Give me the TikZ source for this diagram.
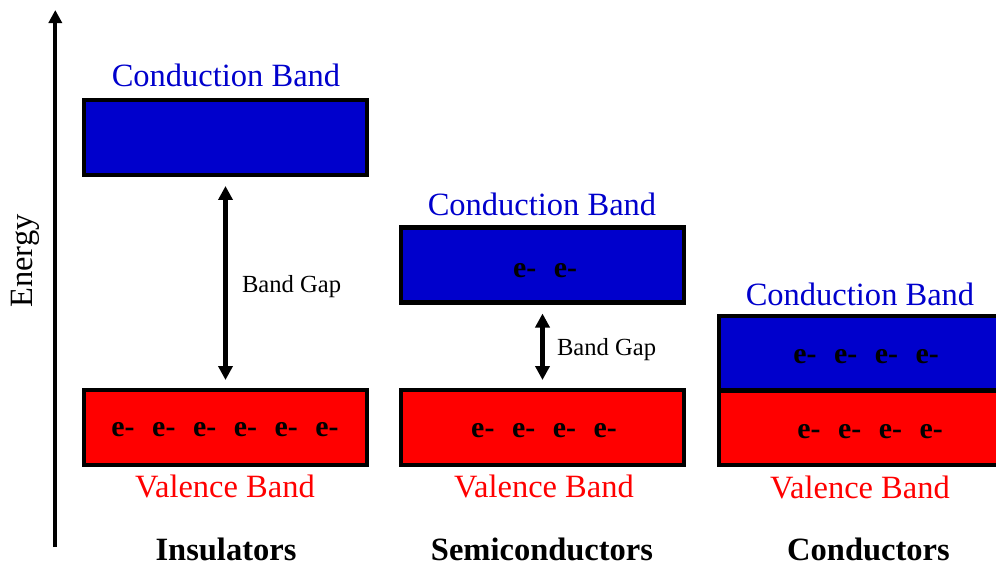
\documentclass[tikz,border=0pt]{standalone}
\usepackage{fontspec}
\setmainfont{Liberation Serif}
\usetikzlibrary{arrows.meta,positioning}

\definecolor{cbblue}{HTML}{0000CC}
\definecolor{vbred}{HTML}{FF0000}
\newcommand{\elsp}{\hspace{10pt}}

\begin{document}
\begin{tikzpicture}[x=0.02cm, y=-0.02cm,
    every node/.style={inner sep=0pt, outer sep=0pt},
    cband/.style={rectangle, draw, line width=2.4pt, fill=cbblue,
                  minimum width=5.66cm, minimum height=1.5cm},
    vband/.style={cband, fill=vbred},
    lbl/.style={font=\fontsize{18.5}{22}\selectfont, anchor=base},
    ctxt/.style={lbl, text=cbblue},
    vtxt/.style={lbl, text=vbred},
    cat/.style={lbl, font=\fontsize{18.5}{22}\selectfont\bfseries},
    elec/.style={font=\fontsize{17}{20}\selectfont\bfseries, anchor=base},
    gtxt/.style={font=\fontsize{14}{17}\selectfont, anchor=base west},
    gap/.style={{Triangle[length=0.28cm, width=0.28cm]}-{Triangle[length=0.28cm, width=0.28cm]},
                line width=2.3pt, shorten <=0.22cm, shorten >=0.2cm},
  ]
  \useasboundingbox (0,0) rectangle (996,566);
  % energy axis
  \coordinate (ebot) at (55.3, 547);
  \coordinate (etop) at (55.3, 10);
  \draw[line width=2.3pt, -{Triangle[length=0.26cm, width=0.26cm]}] (ebot) -- (etop);
  \node[lbl, rotate=90] (energy) at (32, 261) {Energy};
  % insulators
  \node[cband] (ic) at (225.5, 137.5) {};
  \node[vband] (iv) at (225.5, 427.5) {};
  \node[ctxt] (iclbl) at (226, 86) {Conduction Band};
  \node[vtxt] (ivlbl) at (225, 497) {Valence Band};
  \node[elec] (ive) at (225, 436) {e-\elsp e-\elsp e-\elsp e-\elsp e-\elsp e-};
  \draw[gap] (ic) -- (iv);
  \node[gtxt] (igap) at (242, 292) {Band Gap};
  \node[cat] (ins) at (226, 560) {Insulators};
  % semiconductors
  \node[cband] (sc) at (542.5, 265) {};
  \node[vband] (sv) at (542.5, 427.5) {};
  \node[ctxt] (sclbl) at (542, 215) {Conduction Band};
  \node[vtxt] (svlbl) at (544, 497) {Valence Band};
  \node[elec] (sce) at (545, 277) {e-\elsp e-};
  \node[elec] (sve) at (544, 437) {e-\elsp e-\elsp e-\elsp e-};
  \draw[gap] (sc) -- (sv);
  \node[gtxt] (sgap) at (557, 355) {Band Gap};
  \node[cat] (semi) at (542, 560) {Semiconductors};
  % conductors
  \node[cband, minimum height=1.49cm] (cc) at (860.5, 353.25) {};
  \node[vband, minimum height=1.49cm] (cv) at (860.5, 427.75) {};
  \node[ctxt] (cclbl) at (860, 305) {Conduction Band};
  \node[vtxt] (cvlbl) at (860, 498) {Valence Band};
  \node[elec] (cce) at (866, 363) {e-\elsp e-\elsp e-\elsp e-};
  \node[elec] (cve) at (870, 438) {e-\elsp e-\elsp e-\elsp e-};
  \node[cat] (cond) at (868.5, 560) {Conductors};
\end{tikzpicture}
\end{document}
